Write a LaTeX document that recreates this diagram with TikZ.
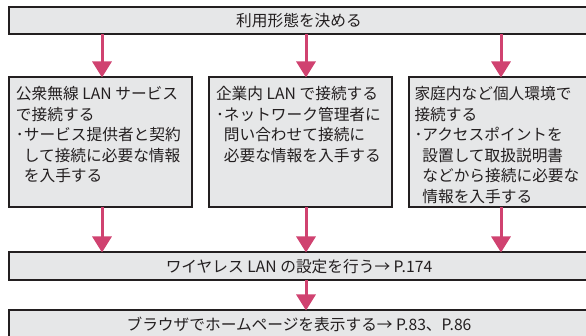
\documentclass[tikz,border=0pt]{standalone}
\usepackage{fontspec}
\setmainfont{Noto Sans CJK JP}
\usepackage{xcolor}
\usepackage{tikz}
\usetikzlibrary{arrows.meta,positioning}

\definecolor{flowpink}{RGB}{208,66,112}
\definecolor{boxgray}{RGB}{230,231,232}
\definecolor{inkblack}{RGB}{35,31,32}

\tikzset{
  bar/.style={draw=inkblack, fill=boxgray, line width=2pt, minimum width=580pt,
    minimum height=27pt, inner sep=0pt, outer sep=0pt, text=inkblack,
    font=\fontsize{15.7pt}{20.5pt}\selectfont},
  choice/.style={bar, minimum width=183pt, minimum height=130pt},
  flow/.style={color=flowpink, line width=3pt, -{Triangle[width=19pt,length=16pt]}}
}
\newcommand{\choicetext}[1]{\parbox[c][112pt][t]{169pt}{\raggedright #1}}
\newcommand{\hang}{\hspace*{0.5em}}

\begin{document}
\begin{tikzpicture}[x=1pt,y=1pt]
      \useasboundingbox (0,0) rectangle (586,-336);
      \clip (0,0) rectangle (586,-336);

      \node[bar, anchor=north west] (decide) at (9,-7.5) {利用形態を決める};

      \node[choice, below=43pt of decide.south west, anchor=north west] (public)
        {\choicetext{公衆無線 LAN サービス\\で接続する\\･サービス提供者と契約\\\hang して接続に必要な情報\\\hang を入手する}};
      \node[choice, right=17pt of public] (office)
        {\choicetext{企業内 LAN で接続する\\･ネットワーク管理者に\\\hang 問い合わせて接続に\\\hang 必要な情報を入手する}};
      \node[choice, minimum width=180pt, right=17pt of office] (home)
        {\choicetext{家庭内など個人環境で\\接続する\\･アクセスポイントを\\\hang 設置して取扱説明書\\\hang などから接続に必要な\\\hang 情報を入手する}};

      \path[flow]
      ([xshift=1.5pt]public.north |- decide.south) edge ([xshift=1.5pt]public.north)
      ([xshift=5.5pt]office.north |- decide.south) edge ([xshift=5.5pt]office.north)
      ([xshift=2pt]home.north |- decide.south) edge ([xshift=2pt]home.north) ;

      \node[bar, minimum height=28pt, below=45pt of public.south west, anchor=north west] (wlan)
        {ワイヤレス LAN の設定を行う→ P.174};
      \node[bar, minimum height=28pt, below=30pt of wlan.south west, anchor=north west] (browse)
        {ブラウザでホームページを表示する→ P.83、P.86};

      \path[flow]
      ([xshift=1.5pt]public.south) edge ([xshift=1.5pt]public.south |- wlan.north)
      ([xshift=5.5pt]office.south) edge ([xshift=5.5pt]office.south |- wlan.north)
      ([xshift=2pt]home.south) edge ([xshift=2pt]home.south |- wlan.north)
      ([xshift=5.5pt]office.south |- wlan.south) edge ([xshift=5.5pt]office.south |- browse.north) ;

\end{tikzpicture}
\end{document}
